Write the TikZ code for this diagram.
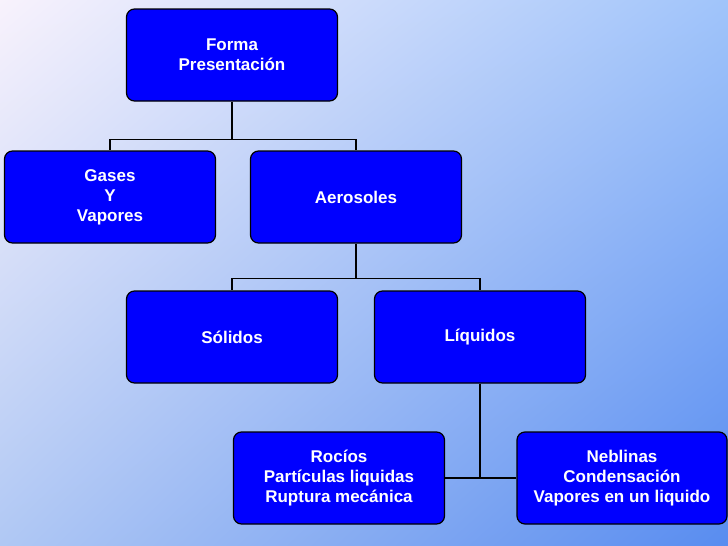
\documentclass[tikz,border=0pt]{standalone}
\usepackage{fontspec}
\setmainfont{Liberation Sans}
\usetikzlibrary{shadings}
\definecolor{fondoA}{RGB}{248,242,252}
\definecolor{fondoB}{RGB}{160,196,250}
\definecolor{fondoC}{RGB}{176,200,244}
\definecolor{fondoD}{RGB}{88,140,240}
\definecolor{azulcaja}{RGB}{0,0,255}
\tikzset{
	caja/.style={draw=black, line width=1.2pt, fill=azulcaja, rounded corners=8pt,
		minimum width=211pt, minimum height=92pt, text=white, align=center,
		font=\fontsize{17}{20}\selectfont\bfseries},
	rama/.style={draw=black, line width=1.2pt}
}
\begin{document}
\begin{tikzpicture}[x=1pt,y=-1pt]
	\useasboundingbox (0,0) rectangle (728,546);
	\shade[upper left=fondoA, upper right=fondoB, lower left=fondoC, lower right=fondoD]
		(0,0) rectangle (728,546);
	\node[caja] (forma) at (232,55) {Forma\\Presentación};
	\node[caja] (gases) at (110,197) {Gases\\Y\\Vapores};
	\node[caja] (aero) at (356,197) {Aerosoles};
	\node[caja] (solidos) at (232,337) {Sólidos};
	\node[caja] (liquidos) at (480,337) {Líquidos};
	\node[caja] (rocios) at (339,478) {Rocíos\\Partículas liquidas\\Ruptura mecánica};
	\node[caja, minimum width=210pt] (neblinas) at (622,478) {Neblinas\\Condensación\\Vapores en un liquido};
	% ramas
	\draw[rama] (forma.south) -- ++(0,38) -| (gases.north);
	\draw[rama] (forma.south) ++(0,38) -| (aero.north);
	\draw[rama] (aero.south) -- ++(0,35) -| (solidos.north);
	\draw[rama] (aero.south) ++(0,35) -| (liquidos.north);
	\draw[rama] (liquidos.south) |- (rocios.east);
	\draw[rama] (liquidos.south |- rocios.east) -- (neblinas.west);
\end{tikzpicture}
\end{document}
